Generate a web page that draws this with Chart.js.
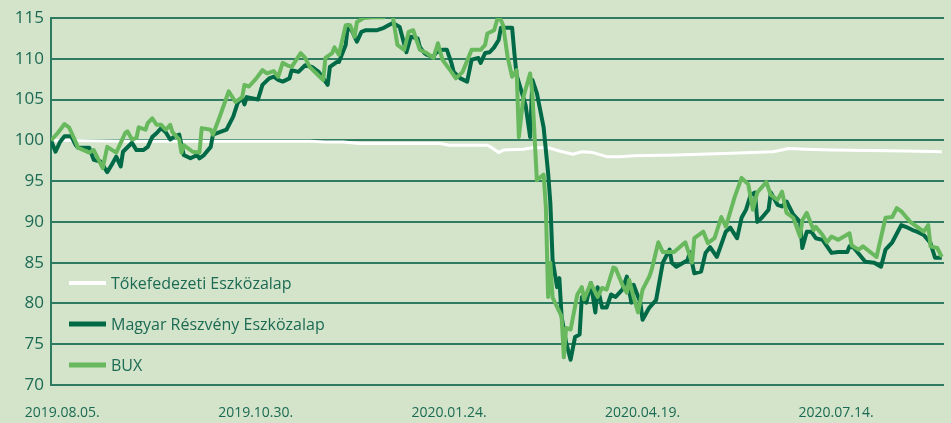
<!DOCTYPE html>
<html>
<head>
<meta charset="utf-8">
<script src="https://cdn.jsdelivr.net/npm/chart.js@4.4.1/dist/chart.umd.min.js"></script>
<style>
    html, body { margin: 0; padding: 0; background: #d3e4cb; }
    #wrap { width: 951px; height: 423px; position: relative; }
</style>
</head>
<body>
<div id="wrap"><canvas id="fund-chart"></canvas></div>
<script>
// x values are days counted from 2019.08.05.
const tickDays = [0, 86, 172, 258, 344];
const tickLabels = ['2019.08.05.', '2019.10.30.', '2020.01.24.', '2020.04.19.', '2020.07.14.'];

const seriesNames = ['Tőkefedezeti Eszközalap', 'Magyar Részvény Eszközalap', 'BUX'];

const tokeDays = [-5, 30, 80, 110, 117, 125, 132, 168, 172, 189, 191, 194, 196, 205, 209, 216, 221, 227, 231, 236, 242, 248, 254, 273, 294, 316, 323, 330, 342, 375, 391];
const tokeValues = [100, 99.9, 99.9, 99.9, 99.8, 99.8, 99.6, 99.6, 99.4, 99.4, 99.1, 98.5, 98.8, 98.9, 99.1, 99.1, 98.7, 98.3, 98.6, 98.5, 98.0, 98.0, 98.1, 98.2, 98.4, 98.6, 99.0, 98.9, 98.8, 98.7, 98.6];

const magyarDays = [-5, -3, -1, 1, 4, 6, 7, 12, 14, 17, 20, 22, 24, 26, 27, 31, 33, 36, 38, 40, 42, 44, 46, 48, 50, 52, 54, 57, 60, 61, 63, 66, 67, 70, 73, 76, 78, 80, 81, 82, 87, 89, 92, 94, 96, 98, 101, 102, 105, 108, 111, 114, 116, 118, 119, 122, 123, 126, 127, 129, 131, 133, 135, 140, 143, 145, 147, 150, 153, 155, 158, 159, 161, 162, 165, 166, 169, 171, 173, 174, 177, 180, 182, 185, 186, 188, 190, 192, 194, 195, 200, 201, 202, 206, 208, 209, 211, 214, 216, 217, 218, 220, 221, 222, 224, 226, 228, 230, 231, 233, 235, 237, 238, 240, 242, 244, 246, 249, 251, 253, 254, 257, 258, 261, 264, 267, 270, 271, 273, 278, 279, 281, 284, 286, 288, 291, 295, 297, 300, 302, 304, 306, 308, 309, 311, 314, 315, 318, 320, 322, 325, 328, 329, 331, 333, 335, 338, 340, 342, 345, 349, 350, 352, 357, 361, 364, 366, 369, 373, 375, 378, 380, 383, 386, 388, 391];
const magyarValues = [100, 98.6, 99.8, 100.5, 100.5, 99.4, 99.1, 99.1, 97.6, 97.4, 96.1, 97, 98, 96.8, 98.6, 99.7, 98.8, 98.8, 99.2, 100.4, 100.9, 101.5, 101, 100.1, 100.5, 100.7, 98.2, 97.8, 98.2, 97.8, 98.2, 99.2, 100.7, 101, 101.3, 102.9, 104.6, 105.2, 104.4, 105.3, 105, 106.8, 107.6, 107.8, 107.4, 107.2, 107.6, 108.6, 108.4, 109.2, 109, 108.4, 107.6, 106.8, 109, 109.6, 109.6, 111.7, 114.1, 113.3, 112.1, 113.3, 113.5, 113.5, 113.8, 114.1, 114.4, 113.9, 110.8, 112.7, 112.5, 111.4, 110.7, 110.5, 110.2, 110.7, 111.1, 111.1, 109.5, 108.4, 107.6, 107.2, 109.9, 110.1, 109.5, 110.7, 110.8, 111.4, 112.3, 113.8, 113.8, 110.7, 108, 104.3, 100.4, 107.4, 105.8, 101.6, 96, 92.3, 85.3, 82, 83.1, 78.4, 75.2, 73.1, 75.9, 76.2, 80.8, 80.1, 82.5, 78.9, 82, 79.5, 79.5, 81.1, 80.8, 81.7, 83.3, 80.1, 82.3, 80.1, 78, 79.5, 80.4, 85, 86.6, 85, 84.5, 85.3, 86.3, 83.7, 83.9, 86.2, 86.9, 85.7, 88.8, 89.3, 88, 90.5, 91.5, 93.3, 93.6, 90, 90.5, 91.5, 93.6, 92.1, 91.9, 92.5, 90.9, 90, 86.8, 88.8, 88.8, 88, 87.8, 87, 86.2, 86.3, 86.3, 87, 86.8, 85.1, 85, 84.5, 86.6, 87.5, 89.6, 89.4, 89, 88.8, 88.4, 87.4, 85.6, 85.6];

const buxDays = [-5, -2, 1, 3, 6, 7, 12, 14, 18, 20, 24, 28, 29, 31, 33, 34, 37, 38, 40, 42, 44, 46, 48, 49, 52, 53, 54, 58, 61, 62, 66, 67, 70, 74, 77, 80, 81, 83, 86, 89, 91, 94, 96, 98, 100, 102, 106, 108, 110, 113, 116, 117, 120, 121, 123, 126, 128, 130, 131, 134, 138, 143, 145, 147, 149, 152, 154, 156, 159, 162, 165, 167, 169, 173, 175, 178, 182, 186, 188, 189, 192, 194, 196, 198, 200, 202, 203, 205, 208, 209, 211, 214, 215, 216, 217, 218, 222, 223, 224, 226, 229, 231, 232, 235, 238, 240, 242, 245, 246, 249, 251, 252, 254, 256, 258, 261, 262, 265, 267, 272, 277, 280, 281, 285, 287, 290, 293, 295, 299, 302, 305, 307, 309, 313, 315, 318, 320, 322, 325, 328, 329, 331, 334, 335, 338, 340, 342, 345, 350, 351, 354, 356, 362, 366, 369, 371, 373, 377, 383, 385, 386, 389, 391];
const buxValues = [100, 100.9, 102, 101.6, 99.8, 99.1, 98.5, 98.8, 96.6, 99.2, 98.5, 100.9, 101.1, 100.1, 100.3, 101.6, 101.3, 102.1, 102.7, 101.9, 101.9, 101.3, 101.9, 101, 100.1, 98.5, 99.4, 98.6, 98.5, 101.5, 101.3, 100.7, 102.9, 106, 104.7, 105.3, 106.8, 106.6, 107.5, 108.6, 108.2, 108.5, 107.8, 109.5, 109.2, 109, 110.7, 110.1, 109, 108.2, 107.4, 110.1, 110.7, 111.4, 110.5, 114.1, 114.1, 112.7, 114.5, 115, 115.1, 115.1, 115.5, 115.1, 111.7, 111.1, 113.3, 113.5, 111.1, 110.7, 110.1, 111.9, 109.9, 108.4, 107.6, 108.4, 111.1, 111.1, 111.7, 113.1, 113.5, 115.4, 114.1, 110.2, 107.8, 108.6, 100.4, 105.3, 108.2, 105.8, 95.1, 95.8, 91.8, 80.8, 85, 80.7, 78.4, 73.4, 77, 76.8, 81.1, 82, 80.5, 82.5, 80.8, 81.9, 81.7, 84.4, 84.3, 82.3, 81.3, 82.9, 80.8, 78.9, 81.7, 83.3, 84.1, 87.5, 86.3, 86.3, 87.5, 85, 88, 88.8, 87.4, 88, 90.6, 89.4, 93.1, 95.4, 94.6, 91.5, 93.6, 94.9, 93.3, 92.7, 93.7, 91.1, 90.5, 88.2, 90.2, 91.1, 89, 89.4, 88.4, 87.5, 88.2, 87.8, 88.6, 87.1, 86.6, 87, 85.7, 90.5, 90.6, 91.7, 91.3, 90, 88.8, 89.6, 87, 86.8, 85.7];

const textColor = '#1c6a53';
const gridColor = '#2e7b62';
const fontFamily = '"Open Sans", "Noto Sans", sans-serif';

function toPoints(days, values) {
    return days.map((d, i) => ({ x: d, y: values[i] }));
}

// legend drawn inside the plot, bottom left
const insideLegend = {
    id: 'insideLegend',
    afterDatasetsDraw(chart) {
        const ctx = chart.ctx;
        const area = chart.chartArea;
        ctx.save();
        ctx.font = '16px ' + fontFamily;
        ctx.textBaseline = 'middle';
        ctx.textAlign = 'left';
        chart.data.datasets.forEach((ds, i) => {
            const y = area.bottom - 102 + i * 41;
            const x = area.left + 18;
            ctx.strokeStyle = ds.borderColor;
            ctx.lineWidth = ds.legendWidth;
            ctx.beginPath();
            ctx.moveTo(x, y);
            ctx.lineTo(x + 37, y);
            ctx.stroke();
            ctx.fillStyle = textColor;
            ctx.fillText(ds.label, x + 42, y + 1);
        });
        ctx.restore();
    }
};

const ctx = document.getElementById('fund-chart').getContext('2d');

new Chart(ctx, {
    type: 'line',
    data: {
        datasets: [
            {
                label: seriesNames[0],
                data: toPoints(tokeDays, tokeValues),
                borderColor: '#ffffff',
                borderWidth: 3,
                legendWidth: 4,
                order: 3
            },
            {
                label: seriesNames[1],
                data: toPoints(magyarDays, magyarValues),
                borderColor: '#006a47',
                borderWidth: 4,
                legendWidth: 5,
                order: 2
            },
            {
                label: seriesNames[2],
                data: toPoints(buxDays, buxValues),
                borderColor: '#68b85e',
                borderWidth: 4,
                legendWidth: 5,
                order: 1
            }
        ]
    },
    options: {
        responsive: true,
        maintainAspectRatio: false,
        animation: false,
        layout: { padding: { top: 18, right: 7, left: 0, bottom: 0 } },
        elements: {
            point: { radius: 0 },
            line: { tension: 0, borderJoinStyle: 'round', fill: false }
        },
        scales: {
            x: {
                type: 'linear',
                min: -5,
                max: 392,
                grid: { display: false },
                border: { display: false },
                afterBuildTicks: scale => {
                    scale.ticks = tickDays.map(v => ({ value: v }));
                },
                afterFit: scale => { scale.height = 38; },
                ticks: {
                    color: textColor,
                    font: { family: fontFamily, size: 14 },
                    padding: 12,
                    maxRotation: 0,
                    autoSkip: false,
                    callback: value => tickLabels[tickDays.indexOf(value)]
                }
            },
            y: {
                min: 70,
                max: 115,
                grid: { color: gridColor, lineWidth: 2, drawTicks: false },
                border: { display: true, color: gridColor, width: 2 },
                afterFit: scale => { scale.width = 51; },
                ticks: {
                    stepSize: 5,
                    color: textColor,
                    font: { family: fontFamily, size: 17 },
                    padding: 7
                }
            }
        },
        plugins: {
            legend: { display: false },
            tooltip: { enabled: false }
        }
    },
    plugins: [insideLegend]
});
</script>
</body>
</html>
